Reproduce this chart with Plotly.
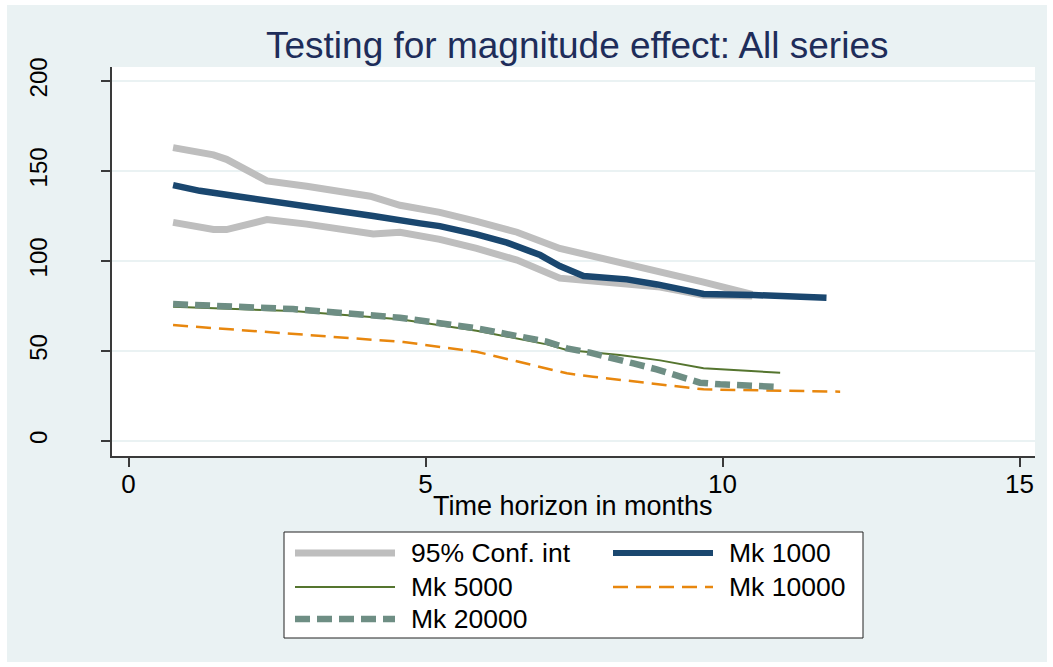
import plotly.graph_objects as go

# ---------------- data ----------------
ci_upper_x = [0.75, 1.43, 1.65, 2.33, 3.0, 4.07, 4.57, 5.24, 5.86, 6.54, 7.26, 8.27, 8.95, 9.68, 10.5]
ci_upper_y = [163.0, 159.0, 156.5, 144.5, 141.5, 136.0, 131.0, 127.0, 122.0, 116.0, 107.0, 99.6, 94.0, 88.3, 81.5]

ci_lower_x = [0.75, 1.43, 1.65, 2.33, 3.0, 4.12, 4.57, 5.24, 5.86, 6.54, 7.26, 8.27, 8.95, 9.68, 10.5]
ci_lower_y = [121.5, 117.5, 117.5, 123.0, 120.5, 115.0, 116.0, 112.0, 107.0, 100.5, 90.5, 87.8, 85.5, 81.0, 80.5]

mk1000_x = [0.75, 1.2, 1.88, 2.77, 3.45, 4.12, 4.91, 5.24, 5.86, 6.37, 6.93, 7.26, 7.66, 8.39, 8.9, 9.68, 10.52, 11.75]
mk1000_y = [142.2, 139.0, 135.7, 131.7, 128.3, 125.0, 120.9, 119.4, 114.8, 110.2, 103.3, 97.2, 91.7, 89.8, 87.0, 81.7, 81.1, 79.6]

mk5000_x = [0.75, 2.77, 4.57, 5.86, 7.04, 7.38, 8.27, 8.95, 9.68, 10.97]
mk5000_y = [74.6, 72.2, 67.6, 61.3, 53.7, 50.6, 47.8, 44.8, 40.4, 37.9]

mk10000_x = [0.75, 2.77, 4.63, 5.86, 7.04, 7.38, 7.82, 8.95, 9.68, 11.98]
mk10000_y = [64.4, 59.6, 55.0, 49.6, 40.4, 37.6, 35.7, 31.7, 28.7, 27.4]

mk20000_x = [0.75, 2.77, 4.57, 5.86, 7.04, 7.38, 7.77, 8.16, 8.5, 8.89, 9.62, 9.96, 10.86]
mk20000_y = [76.1, 73.3, 68.5, 62.6, 55.2, 51.5, 49.1, 46.3, 43.1, 39.8, 32.4, 31.5, 30.2]

x_ticks = [0, 5, 10, 15]
y_ticks = [0, 50, 100, 150, 200]

title_text = "Testing for magnitude effect: All series"
x_title = "Time horizon in months"
legend_labels = ["95% Conf. int", "Mk 1000", "Mk 5000", "Mk 10000", "Mk 20000"]

# ---------------- styles ----------------
C_CI = "#BEBEBE"
C_1000 = "#1A476F"
C_5000 = "#55752F"
C_10000 = "#E8870E"
C_20000 = "#6E8E84"
BG = "#EAF2F3"
AX = "#3A3A3A"
FONT = "Liberation Sans, Arial, sans-serif"

W, H = 1053, 667
L, R, T, B = 112, 18, 67, 211
PW = W - L - R
PH = H - T - B


def px(x):
    return (x - L) / PW


def py(y):
    return (H - B - y) / PH


fig = go.Figure()

series = [
    (ci_upper_x, ci_upper_y, dict(color=C_CI, width=7)),
    (ci_lower_x, ci_lower_y, dict(color=C_CI, width=7)),
    (mk5000_x, mk5000_y, dict(color=C_5000, width=2)),
    (mk10000_x, mk10000_y, dict(color=C_10000, width=2.5, dash="15px,8px")),
    (mk20000_x, mk20000_y, dict(color=C_20000, width=6.5, dash="15px,7px")),
    (mk1000_x, mk1000_y, dict(color=C_1000, width=6.5)),
]
for xs, ys, ln in series:
    fig.add_trace(go.Scatter(x=xs, y=ys, mode="lines", line=ln, showlegend=False, hoverinfo="skip"))

shapes = [
    # outer background with thin white frame
    dict(type="rect", xref="paper", yref="paper", x0=px(7), x1=px(1047), y0=py(662), y1=py(5),
         fillcolor=BG, line=dict(width=0), layer="below"),
    # plot region
    dict(type="rect", xref="paper", yref="paper", x0=0, x1=1, y0=0, y1=1,
         fillcolor="white", line=dict(width=0), layer="below"),
    # legend box
    dict(type="rect", xref="paper", yref="paper", x0=px(284), x1=px(863), y0=py(638), y1=py(532),
         fillcolor="white", line=dict(color="#222222", width=1)),
]

leg_items = [
    (295, 553, dict(color=C_CI, width=7)),
    (613, 553, dict(color=C_1000, width=6)),
    (295, 587, dict(color=C_5000, width=2)),
    (613, 587, dict(color=C_10000, width=2.5, dash="15px,8px")),
    (295, 619, dict(color=C_20000, width=6.5, dash="15px,7px")),
]
annotations = []
for (lx, ly, ln), lab in zip(leg_items, legend_labels):
    shapes.append(dict(type="line", xref="paper", yref="paper", x0=px(lx), x1=px(lx + 100),
                       y0=py(ly), y1=py(ly), line=ln))
    annotations.append(dict(xref="paper", yref="paper", x=px(lx + 114), y=py(ly), text=lab,
                            showarrow=False, xanchor="left", yanchor="middle",
                            font=dict(family=FONT, size=26.5, color="black")))

annotations.append(dict(xref="paper", yref="paper", x=px(577), y=py(45), text=title_text,
                        showarrow=False, xanchor="center", yanchor="middle",
                        font=dict(family=FONT, size=37, color="#1E2D5A")))
annotations.append(dict(xref="paper", yref="paper", x=px(573), y=py(506), text=x_title,
                        showarrow=False, xanchor="center", yanchor="middle",
                        font=dict(family=FONT, size=27, color="black")))

fig.update_layout(
    width=W, height=H,
    margin=dict(l=L, r=R, t=T, b=B, pad=0),
    paper_bgcolor="white",
    plot_bgcolor="rgba(0,0,0,0)",
    showlegend=False,
    shapes=shapes,
    annotations=annotations,
    font=dict(family=FONT, color="black"),
)

fig.update_xaxes(
    range=[-0.278, 15.26], tickmode="array", tickvals=x_ticks,
    ticks="outside", ticklen=9, tickwidth=1.5, tickcolor=AX,
    showline=True, linecolor=AX, linewidth=1.5,
    showgrid=False, zeroline=False, ticklabelstandoff=-5,
    tickfont=dict(family=FONT, size=26, color="black"),
)
fig.update_yaxes(
    range=[-8.33, 207.8], tickmode="array", tickvals=y_ticks,
    ticks="outside", ticklen=9, tickwidth=1.5, tickcolor=AX,
    showline=True, linecolor=AX, linewidth=1.5,
    showgrid=True, gridcolor=BG, gridwidth=2,
    zeroline=False, tickangle=-90, ticklabelstandoff=45,
    tickfont=dict(family=FONT, size=24, color="black"),
)

fig.write_html("out.html", config={"displayModeBar": False},
               post_script="document.body.style.margin='0';")
